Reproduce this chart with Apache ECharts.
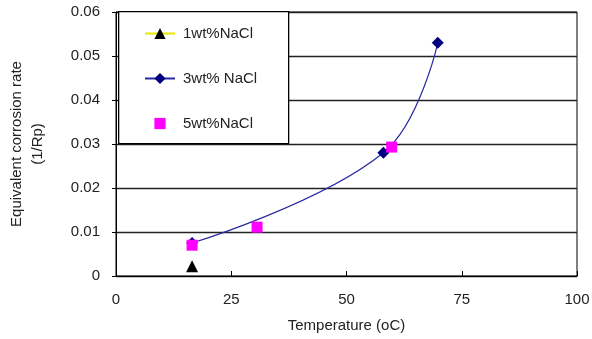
<!DOCTYPE html>
<html><head><meta charset="utf-8">
<script src="https://cdn.jsdelivr.net/npm/echarts@6/dist/echarts.min.js"></script>
<style>html,body{margin:0;padding:0;background:#fff}#c{width:592px;height:339px}</style>
</head><body><div id="c"></div>
<script>
// data
const seriesNames = ['1wt%NaCl', '3wt% NaCl', '5wt%NaCl'];
const nacl1 = [[16.5, 0.0022]];
const nacl3 = [[16.5, 0.0075], [58, 0.028], [69.8, 0.053]];
const nacl5 = [[16.5, 0.0070], [30.6, 0.0111], [59.8, 0.0293]];
const xTicks = [0, 25, 50, 75, 100];
const yTicks = ['0', '0.01', '0.02', '0.03', '0.04', '0.05', '0.06'];

const FONT = 'Liberation Sans, Arial, sans-serif';
const chart = echarts.init(document.getElementById('c'));
chart.setOption({
  animation: false,
  backgroundColor: '#fff',
  grid: { left: 116, right: 15, top: 12, bottom: 63, outerBoundsMode: 'none', containLabel: false,
          show: true, borderColor: '#000', borderWidth: 1, backgroundColor: 'transparent' },
  xAxis: {
    type: 'value', min: 0, max: 100, interval: 25,
    name: 'Temperature (oC)', nameLocation: 'middle', nameGap: 42,
    nameTextStyle: { fontFamily: FONT, fontSize: 15, color: '#222' },
    axisLine: { lineStyle: { color: '#000', width: 1 } },
    axisTick: { inside: true, length: 5, lineStyle: { color: '#000' } },
    axisLabel: { fontFamily: FONT, fontSize: 15, color: '#222', margin: 16, formatter: v => String(xTicks[xTicks.indexOf(v)]) },
    splitLine: { show: false }
  },
  yAxis: {
    type: 'value', min: 0, max: 0.06, interval: 0.01,
    name: 'Equivalent corrosion rate\n(1/Rp)', nameLocation: 'middle', nameGap: 68, nameRotate: 90,
    nameTextStyle: { fontFamily: FONT, fontSize: 15, color: '#222', lineHeight: 21, align: 'center' },
    axisLine: { show: true, lineStyle: { color: '#000', width: 1 } },
    axisTick: { show: true, inside: false, length: 4, lineStyle: { color: '#000' } },
    axisLabel: { fontFamily: FONT, fontSize: 15, color: '#222', margin: 16, formatter: v => yTicks[Math.round(v / 0.01)] },
    splitLine: { show: true, lineStyle: { color: '#222', width: 1.3 } }
  },
  graphic: [{
    type: 'rect', z: 50, left: 118, top: 11,
    shape: { width: 170, height: 132 },
    style: { fill: '#fff', stroke: '#000', lineWidth: 1.3 }
  }],
  legend: {
    z: 60, orient: 'vertical', left: 139, top: 21, itemGap: 30, itemWidth: 30, itemHeight: 14,
    textStyle: { fontFamily: FONT, fontSize: 15, color: '#222', padding: [0, 0, 0, 3] },
    data: seriesNames
  },
  series: [
    { name: seriesNames[0], type: 'line', data: nacl1, symbol: 'triangle', symbolSize: 12,
      itemStyle: { color: '#000' }, lineStyle: { color: '#e6e600', width: 1 } },
    { name: seriesNames[1], type: 'line', data: nacl3, symbol: 'diamond', symbolSize: 12, smooth: 0.4,
      itemStyle: { color: '#000080' }, lineStyle: { color: '#2828a0', width: 1.2 } },
    { name: seriesNames[2], type: 'line', data: nacl5, symbol: 'rect', symbolSize: 11,
      itemStyle: { color: '#ff00ff' }, lineStyle: { width: 0, opacity: 0 }, z: 5 }
  ]
});
</script></body></html>
